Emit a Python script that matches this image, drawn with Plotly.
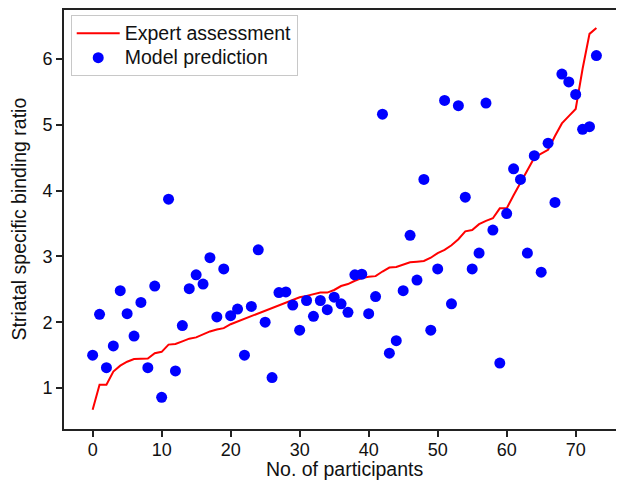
import plotly.graph_objects as go

participants = list(range(74))

expert_assessment = [
    0.67, 1.05, 1.05, 1.25, 1.34, 1.40, 1.44, 1.45, 1.45, 1.53,
    1.55, 1.66, 1.67, 1.71, 1.75, 1.77, 1.82, 1.86, 1.89, 1.91,
    1.97, 2.01, 2.05, 2.09, 2.13, 2.18, 2.22, 2.26, 2.30, 2.34,
    2.38, 2.40, 2.42, 2.45, 2.45, 2.49, 2.55, 2.58, 2.63, 2.67,
    2.69, 2.70, 2.77, 2.83, 2.84, 2.87, 2.91, 2.92, 2.93, 2.98,
    3.05, 3.10, 3.17, 3.26, 3.38, 3.40, 3.49, 3.54, 3.58, 3.73,
    3.73, 3.93, 4.12, 4.32, 4.50, 4.56, 4.62, 4.83, 5.02, 5.13,
    5.24, 5.85, 6.38, 6.47,
]

model_prediction = [
    1.50, 2.12, 1.31, 1.64, 2.48, 2.13, 1.79, 2.30, 1.31, 2.55,
    0.86, 3.87, 1.26, 1.95, 2.51, 2.72, 2.58, 2.98, 2.08, 2.81,
    2.10, 2.20, 1.50, 2.24, 3.10, 2.00, 1.16, 2.45, 2.46, 2.26,
    1.88, 2.33, 2.09, 2.33, 2.19, 2.38, 2.28, 2.15, 2.72, 2.73,
    2.13, 2.39, 5.16, 1.53, 1.72, 2.48, 3.32, 2.64, 4.17, 1.88,
    2.81, 5.37, 2.28, 5.29, 3.90, 2.81, 3.05, 5.33, 3.40, 1.38,
    3.65, 4.33, 4.17, 3.05, 4.53, 2.76, 4.72, 3.82, 5.77, 5.65,
    5.46, 4.93, 4.97, 6.05,
]

x_ticks = [0, 10, 20, 30, 40, 50, 60, 70]
y_ticks = [1, 2, 3, 4, 5, 6]

series_names = ["Expert assessment", "Model prediction"]
x_title = "No. of participants"
y_title = "Striatal specific binding ratio"

FONT = "Liberation Sans, Arial, sans-serif"
TXT = "#111111"


def legend_label(s):
    return '<span style="font-size:19.5px">' + s + "</span>"


fig = go.Figure()
fig.add_trace(go.Scatter(
    x=participants, y=expert_assessment, mode="lines",
    name=legend_label(series_names[0]),
    line=dict(color="#ff0000", width=2),
))
fig.add_trace(go.Scatter(
    x=participants, y=model_prediction, mode="markers",
    name=legend_label(series_names[1]),
    marker=dict(color="#0000ff", size=11, line=dict(width=0)),
))

axis_common = dict(
    showgrid=False, zeroline=False, automargin=False,
    showline=True, linecolor="#222222", linewidth=2,
    ticks="outside", ticklen=6, tickwidth=1.5, tickcolor="#222222",
    tickfont=dict(family=FONT, size=18, color=TXT),
)

fig.update_layout(
    width=616, height=478,
    margin=dict(l=56, r=0, t=2, b=57),
    paper_bgcolor="white", plot_bgcolor="white",
    font=dict(family=FONT, size=18, color=TXT),
    xaxis=dict(range=[-4.15, 77], tickvals=x_ticks, mirror=True,
               ticklabelstandoff=-3, **axis_common),
    yaxis=dict(range=[0.378, 6.743], tickvals=y_ticks, **axis_common),
    legend=dict(
        x=0.012, y=0.988, xanchor="left", yanchor="top",
        bgcolor="white", bordercolor="#c8c8c8", borderwidth=1,
        font=dict(family=FONT, size=16.5, color=TXT),
        tracegroupgap=0, itemwidth=43,
    ),
    showlegend=True,
    annotations=[
        dict(text=x_title, xref="paper", yref="paper", x=0.5, y=0,
             xanchor="center", yanchor="middle", yshift=-40, showarrow=False,
             font=dict(family=FONT, size=19.5, color=TXT)),
        dict(text=y_title, xref="paper", yref="paper", x=0, y=0.5,
             xanchor="center", yanchor="middle", xshift=-46, textangle=-90,
             showarrow=False, font=dict(family=FONT, size=19.5, color=TXT)),
    ],
)

fig.write_html("out.html")
